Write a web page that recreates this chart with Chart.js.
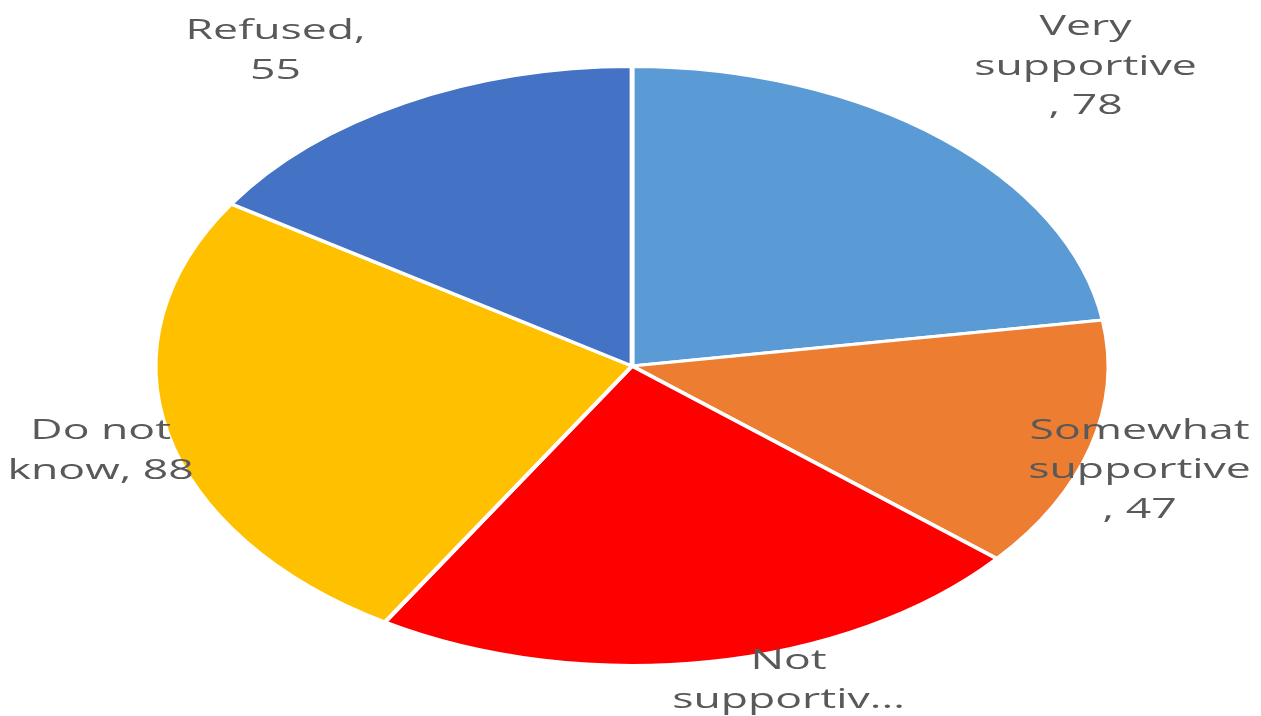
<!DOCTYPE html>
<html>
<head>
<meta charset="utf-8">
<script src="https://cdn.jsdelivr.net/npm/chart.js@4.4.1/dist/chart.umd.min.js"></script>
<style>
  html, body { margin: 0; padding: 0; background: #fff; }
  #wrap { width: 1261px; height: 716px; }
</style>
</head>
<body>
<div id="wrap"><canvas id="pie-chart" width="1261" height="716"></canvas></div>
<script>
var categories = ['Very supportive', 'Somewhat supportive', 'Not supportive', 'Do not know', 'Refused'];
var values = [78, 47, 78, 88, 55];
var colors = ['#5B9BD5', '#ED7D31', '#FF0000', '#FFC000', '#4472C4'];

// the picture is stretched sideways, so the pie is an ellipse
var stretch = 1.592;

// how Excel wrapped each data label
var labelLines = [
	['Very', 'supportive', ', ' + values[0]],
	['Somewhat', 'supportive', ', ' + values[1]],
	['Not', 'supportiv...'],
	['Do not', 'know, ' + values[3]],
	['Refused,', '' + values[4]]
];
// label distance (x radius) and angle shift (deg) from slice middle
var labelPlace = [[1.38, 3], [1.12, 2.5], [1.10, -8.0], [1.15, -1.3], [1.29, -6.8]];

var ellipsePlugin = {
	id: 'ellipse',
	beforeDatasetsDraw: function(chart) {
		var ctx = chart.ctx;
		var cx = (chart.chartArea.left + chart.chartArea.right) / 2;
		ctx.save();
		ctx.translate(cx, 0);
		ctx.scale(stretch, 1);
		ctx.translate(-cx, 0);
	},
	afterDatasetsDraw: function(chart) {
		chart.ctx.restore();
	},
	afterDraw: function(chart) {
		var ctx = chart.ctx;
		var arcs = chart.getDatasetMeta(0).data;
		ctx.save();
		ctx.fillStyle = '#595959';
		ctx.font = '28px "Open Sans"';
		ctx.textAlign = 'center';
		ctx.textBaseline = 'middle';
		arcs.forEach(function(arc, i) {
			var mid = (arc.startAngle + arc.endAngle) / 2 + labelPlace[i][1] * Math.PI / 180;
			var r = arc.outerRadius * labelPlace[i][0];
			var x = arc.x + Math.cos(mid) * r * stretch;
			var y = arc.y + Math.sin(mid) * r;
			var lines = labelLines[i];
			var lh = 39.5;
			var top = y - (lines.length - 1) * lh / 2;
			lines.forEach(function(t, k) {
				ctx.save();
				ctx.translate(x, top + k * lh);
				ctx.scale(stretch, 1);
				ctx.fillText(t, 0, 0);
				ctx.restore();
			});
		});
		ctx.restore();
	}
};

var ctx = document.getElementById('pie-chart').getContext('2d');
var myChart = new Chart(ctx, {
	type: 'pie',
	data: {
		labels: categories,
		datasets: [{
			data: values,
			backgroundColor: colors,
			borderColor: '#ffffff',
			borderWidth: 3
		}]
	},
	options: {
		responsive: false,
		animation: false,
		layout: { padding: { left: 331, right: 328, top: 65, bottom: 49 } },
		plugins: {
			legend: { display: false },
			tooltip: { enabled: false }
		}
	},
	plugins: [ellipsePlugin]
});
</script>
</body>
</html>
